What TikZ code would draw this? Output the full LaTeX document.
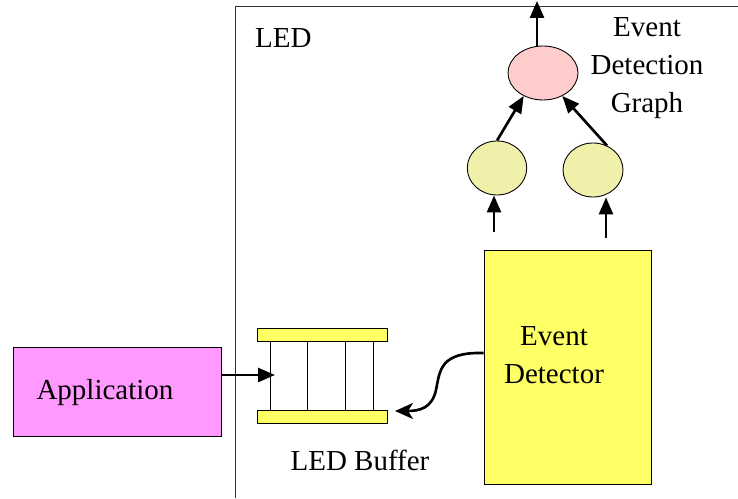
\documentclass[tikz,border=0pt]{standalone}
\usepackage{fontspec}
\setmainfont{Liberation Serif}
\usetikzlibrary{arrows.meta,shapes.geometric}
\definecolor{appmag}{HTML}{FF99FF}
\definecolor{detyel}{HTML}{FFFF66}
\definecolor{gnode}{HTML}{F0F0AA}
\definecolor{rootpink}{HTML}{FFCCCC}
\tikzset{
  box/.style={draw,line width=.5pt,inner sep=0pt},
  gvert/.style={draw,ellipse,line width=.5pt,inner sep=0pt,fill=gnode,minimum width=1.19cm,minimum height=1.08cm},
  flow/.style={line width=1.5pt,-{Triangle[length=.34cm,width=.28cm]}},
}
\begin{document}
\begin{tikzpicture}[x=1cm,y=1cm,font=\rmfamily\fontsize{16.5}{21.6}\selectfont]
\useasboundingbox (0,0) rectangle (14.76,9.96);
% LED frame
\draw[line width=.5pt,black!80] (4.70,0) -- (4.70,9.84) -- (14.76,9.84);
\node[anchor=west] (ledlbl) at (4.98,9.20) {LED};
% application
\node[box,fill=appmag,minimum width=4.16cm,minimum height=1.78cm] (app) at (2.34,2.13) {};
\node (applbl) at (2.10,2.10) {Application};
% LED buffer
\draw[line width=.5pt,fill=detyel] (5.14,3.14) rectangle (7.74,3.40);
\draw[line width=.5pt,fill=detyel] (5.14,1.50) rectangle (7.74,1.76);
\foreach \xb in {5.40,6.14,6.90,7.46}
  \draw[line width=.5pt] (\xb,1.76) -- (\xb,3.14);
\coordinate (bufin) at (5.50,2.46);
\coordinate (bufout) at (7.90,1.74);
\node (buflbl) at (7.20,0.76) {LED Buffer};
\draw[flow] (app.east |- bufin) -- (bufin);
% event detector
\node[box,fill=detyel,minimum width=3.34cm,minimum height=4.68cm] (det) at (11.35,2.62) {};
\node[align=center] (detlbl) at (11.08,2.86) {Event\\Detector};
\draw[line width=1.5pt,-{Stealth[length=.36cm,width=.32cm,inset=.1cm]}]
  (det.west |- 0,2.90) .. controls (8.80,2.92) and (8.80,2.56) .. (8.72,2.16)
  .. controls (8.64,1.80) and (8.40,1.74) .. (bufout);
% event detection graph
\node[draw,ellipse,line width=.5pt,inner sep=0pt,fill=rootpink,minimum width=1.40cm,minimum height=1.08cm] (root) at (10.86,8.50) {};
\node[gvert] (lv1) at (9.94,6.60) {};
\node[gvert,minimum width=1.20cm] (lv2) at (11.86,6.56) {};
\coordinate (top) at (10.74,9.94);
\coordinate (in1) at (9.88,5.32);
\coordinate (in2) at (12.12,5.20);
\draw[flow] (top |- root.north) -- (top);
\draw[flow] (lv1.north) -- (root.230);
\draw[flow] (lv2.60) -- (root.310);
\draw[flow] (in1) -- (in1 |- lv1.south);
\draw[flow] (in2) -- (in2 |- lv2.south);
\node[align=center] (graphlbl) at (12.94,8.60) {Event\\Detection\\Graph};
\end{tikzpicture}
\end{document}
